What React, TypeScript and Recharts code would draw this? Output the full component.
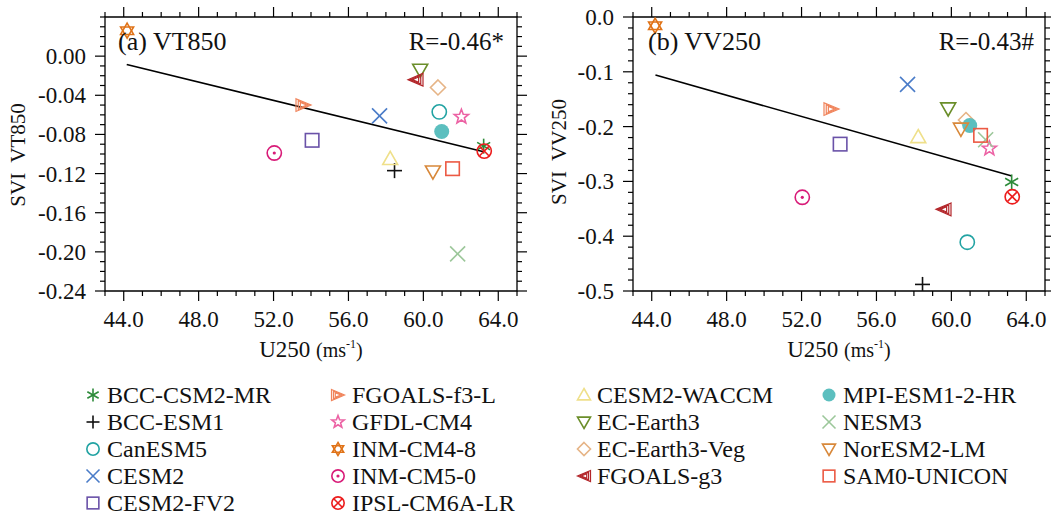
import { ScatterChart, Scatter, XAxis, YAxis, ReferenceArea, ReferenceLine } from 'recharts'

const FONT = '"Liberation Serif", "Times New Roman", serif'

const models = [
  'BCC-CSM2-MR', 'BCC-ESM1', 'CanESM5', 'CESM2', 'CESM2-FV2',
  'FGOALS-f3-L', 'GFDL-CM4', 'INM-CM4-8', 'INM-CM5-0', 'IPSL-CM6A-LR',
  'CESM2-WACCM', 'EC-Earth3', 'EC-Earth3-Veg', 'FGOALS-g3',
  'MPI-ESM1-2-HR', 'NESM3', 'NorESM2-LM', 'SAM0-UNICON',
]
const markerKinds = [
  'asterisk', 'plus', 'circle', 'x', 'square',
  'triR', 'star', 'david', 'dotCircle', 'xCircle',
  'triUp', 'triDown', 'diamond', 'triL',
  'disc', 'x', 'triDown', 'square',
]
const markerColors = [
  '#2e8b3a', '#111111', '#22a3a3', '#4a7cc8', '#6a52a8',
  '#f0835a', '#ec62a4', '#e07318', '#d81b78', '#ec1c1c',
  '#efe08a', '#6b8e2a', '#e6b486', '#b3262a',
  '#5cbfbf', '#9cc79a', '#d8883a', '#ec5a44',
]

// U250 (m/s) per model, shared by both panels
const u250 = [63.22, 58.46, 60.85, 57.66, 54.06, 53.6, 62.03, 44.18, 52.04, 63.25, 58.23, 59.83, 60.78, 59.58, 60.98, 61.83, 60.51, 61.56]
const vt850 = [-0.092, -0.117, -0.057, -0.061, -0.086, -0.05, -0.062, 0.026, -0.099, -0.097, -0.105, -0.014, -0.032, -0.024, -0.077, -0.202, -0.118, -0.115]
const vv250 = [-0.301, -0.488, -0.411, -0.123, -0.232, -0.168, -0.24, -0.016, -0.329, -0.328, -0.219, -0.167, -0.188, -0.351, -0.198, -0.224, -0.204, -0.216]

const trendA = [{ x: 44.16, y: -0.0085 }, { x: 63.22, y: -0.0977 }]
const trendB = [{ x: 44.2, y: -0.106 }, { x: 63.23, y: -0.29 }]

const xDomain = [43, 65]
const xMajor = [44, 48, 52, 56, 60, 64]
const yDomainA = [-0.24, 0.04]
const yMajorA = [0, -0.04, -0.08, -0.12, -0.16, -0.2, -0.24]
const yDomainB = [-0.5, 0]
const yMajorB = [0, -0.1, -0.2, -0.3, -0.4, -0.5]

const PLOT_W = 412
const PLOT_H = 274

const steps = (lo: number, hi: number, step: number) => {
  const out: number[] = []
  for (let v = lo; v <= hi + step / 2; v += step) out.push(Math.round(v * 1000) / 1000)
  return out
}
const isMajor = (list: number[], v: number) => list.some((m) => Math.abs(m - v) < 1e-6)

function Marker({ kind, color, cx, cy, r }: { kind: string; color: string; cx: number; cy: number; r: number }) {
  const sw = 1.6
  const common = { fill: 'none', stroke: color, strokeWidth: sw }
  const poly = (pts: number[][]) => pts.map((p) => p.join(',')).join(' ')
  switch (kind) {
    case 'asterisk': {
      const a = r * 0.87, b = r * 0.5
      return (
        <g {...common}>
          <line x1={cx} y1={cy - r} x2={cx} y2={cy + r} />
          <line x1={cx - a} y1={cy - b} x2={cx + a} y2={cy + b} />
          <line x1={cx - a} y1={cy + b} x2={cx + a} y2={cy - b} />
        </g>
      )
    }
    case 'plus':
      return (
        <g {...common}>
          <line x1={cx} y1={cy - r} x2={cx} y2={cy + r} />
          <line x1={cx - r} y1={cy} x2={cx + r} y2={cy} />
        </g>
      )
    case 'circle':
      return <circle cx={cx} cy={cy} r={r * 0.95} {...common} />
    case 'disc':
      return <circle cx={cx} cy={cy} r={r} fill={color} stroke="none" />
    case 'dotCircle':
      return (
        <g>
          <circle cx={cx} cy={cy} r={r * 0.95} {...common} />
          <circle cx={cx} cy={cy} r={1.6} fill={color} />
        </g>
      )
    case 'xCircle': {
      const d = r * 0.62
      return (
        <g {...common}>
          <circle cx={cx} cy={cy} r={r * 0.95} />
          <line x1={cx - d} y1={cy - d} x2={cx + d} y2={cy + d} />
          <line x1={cx - d} y1={cy + d} x2={cx + d} y2={cy - d} />
        </g>
      )
    }
    case 'x':
      return (
        <g {...common}>
          <line x1={cx - r} y1={cy - r} x2={cx + r} y2={cy + r} />
          <line x1={cx - r} y1={cy + r} x2={cx + r} y2={cy - r} />
        </g>
      )
    case 'square':
      return <rect x={cx - r * 0.9} y={cy - r * 0.9} width={r * 1.8} height={r * 1.8} {...common} />
    case 'diamond':
      return <polygon points={poly([[cx, cy - r], [cx + r, cy], [cx, cy + r], [cx - r, cy]])} {...common} />
    case 'triUp':
      return <polygon points={poly([[cx, cy - r], [cx + r, cy + r * 0.75], [cx - r, cy + r * 0.75]])} {...common} />
    case 'triDown':
      return <polygon points={poly([[cx, cy + r], [cx + r, cy - r * 0.75], [cx - r, cy - r * 0.75]])} {...common} />
    case 'triR':
    case 'triL': {
      const s = kind === 'triR' ? 1 : -1
      return (
        <g {...common} strokeWidth={1.2}>
          {[1, 0.7, 0.42].map((k) => (
            <polygon
              key={k}
              points={poly([[cx - s * r * k, cy - r * k * 0.85], [cx + s * r * k, cy], [cx - s * r * k, cy + r * k * 0.85]])}
            />
          ))}
        </g>
      )
    }
    case 'star': {
      const pts: number[][] = []
      for (let i = 0; i < 10; i++) {
        const ang = -Math.PI / 2 + (i * Math.PI) / 5
        const rr = i % 2 === 0 ? r : r * 0.42
        pts.push([cx + rr * Math.cos(ang), cy + rr * Math.sin(ang)])
      }
      return <polygon points={poly(pts)} {...common} />
    }
    case 'david': {
      const tri = (start: number) =>
        [0, 1, 2].map((i) => {
          const ang = start + (i * 2 * Math.PI) / 3
          return [cx + r * Math.cos(ang), cy + r * Math.sin(ang)]
        })
      return (
        <g {...common}>
          <polygon points={poly(tri(-Math.PI / 2))} />
          <polygon points={poly(tri(Math.PI / 2))} />
        </g>
      )
    }
    default:
      return null
  }
}

function makeXTick() {
  return (props: any) => {
    const { x, y, payload } = props
    const v = payload.value
    const major = isMajor(xMajor, v)
    const len = major ? 10 : 5
    return (
      <g>
        <line x1={x} x2={x} y1={y} y2={y + len} stroke="#000" strokeWidth={1.2} />
        <line x1={x} x2={x} y1={y - PLOT_H} y2={y - PLOT_H - len} stroke="#000" strokeWidth={1.2} />
        {major && (
          <text x={x} y={y + 36} textAnchor="middle" fontSize={23} fontFamily={FONT} fill="#111">
            {v.toFixed(1)}
          </text>
        )}
      </g>
    )
  }
}

function makeYTick(majors: number[], digits: number) {
  return (props: any) => {
    const { x, y, payload } = props
    const v = payload.value
    const major = isMajor(majors, v)
    const len = major ? 10 : 5
    return (
      <g>
        <line x1={x} x2={x - len} y1={y} y2={y} stroke="#000" strokeWidth={1.2} />
        <line x1={x + PLOT_W} x2={x + PLOT_W + len} y1={y} y2={y} stroke="#000" strokeWidth={1.2} />
        {major && (
          <text x={x - 19} y={y} dy="0.35em" textAnchor="end" fontSize={23} fontFamily={FONT} fill="#111">
            {v.toFixed(digits)}
          </text>
        )}
      </g>
    )
  }
}

function Panel({ yValues, yDomain, yTicks, yMajors, digits, trend }: any) {
  return (
    <ScatterChart width={530} height={380} margin={{ top: 17, right: 13, bottom: 0, left: 0 }}>
      <XAxis
        type="number"
        dataKey="x"
        domain={xDomain}
        ticks={steps(43, 65, 1)}
        interval={0}
        height={89}
        tickSize={0}
        tickMargin={0}
        axisLine={false}
        tickLine={false}
        allowDataOverflow
        tick={makeXTick()}
      />
      <YAxis
        type="number"
        dataKey="y"
        domain={yDomain}
        ticks={yTicks}
        interval={0}
        width={105}
        tickSize={0}
        tickMargin={0}
        axisLine={false}
        tickLine={false}
        allowDataOverflow
        tick={makeYTick(yMajors, digits)}
      />
      <ReferenceArea x1={xDomain[0]} x2={xDomain[1]} y1={yDomain[0]} y2={yDomain[1]} fill="none" fillOpacity={0} stroke="#000" strokeWidth={1.3} />
      <ReferenceLine segment={trend} stroke="#000" strokeWidth={1.6} />
      {models.map((m, i) => (
        <Scatter
          key={m}
          name={m}
          data={[{ x: u250[i], y: yValues[i] }]}
          isAnimationActive={false}
          shape={(p: any) => <Marker kind={markerKinds[i]} color={markerColors[i]} cx={p.cx} cy={p.cy} r={7.5} />}
        />
      ))}
    </ScatterChart>
  )
}

const legendCols = [
  { mx: 93, tx: 107, from: 0, to: 5 },
  { mx: 338, tx: 352, from: 5, to: 10 },
  { mx: 584, tx: 597, from: 10, to: 14 },
  { mx: 829, tx: 843, from: 14, to: 18 },
]

export default function App() {
  return (
    <div style={{ position: 'absolute', left: 0, top: 0, width: 1051, height: 516, background: '#fff', fontFamily: FONT }}>
      <div style={{ position: 'absolute', left: 0, top: 0 }}>
        <Panel yValues={vt850} yDomain={yDomainA} yTicks={steps(-0.24, 0.04, 0.01)} yMajors={yMajorA} digits={2} trend={trendA} />
      </div>
      <div style={{ position: 'absolute', left: 528, top: 0 }}>
        <Panel yValues={vv250} yDomain={yDomainB} yTicks={steps(-0.5, 0, 0.02)} yMajors={yMajorB} digits={1} trend={trendB} />
      </div>
      <svg width={1051} height={516} style={{ position: 'absolute', left: 0, top: 0, pointerEvents: 'none' }} fontFamily={FONT} fill="#111">
        <text x={118} y={50} fontSize={26}>(a) VT850</text>
        <text x={504} y={50} fontSize={25} textAnchor="end">R=-0.46*</text>
        <text x={648} y={50} fontSize={26}>(b) VV250</text>
        <text x={1034} y={50} fontSize={25} textAnchor="end">R=-0.43#</text>

        <text transform="translate(18,155) rotate(-90)" textAnchor="middle" dy="0.35em" fontSize={21} style={{ whiteSpace: 'pre' }}>
          SVI  VT850
        </text>
        <text transform="translate(559,152) rotate(-90)" textAnchor="middle" dy="0.35em" fontSize={21} style={{ whiteSpace: 'pre' }}>
          SVI  VV250
        </text>

        {[311, 839].map((cx) => (
          <text key={cx} x={cx} y={357} textAnchor="middle" fontSize={23}>
            U250 <tspan fontSize={20}>(ms</tspan>
            <tspan fontSize={12} dy={-9}>-1</tspan>
            <tspan fontSize={20} dy={9}>)</tspan>
          </text>
        ))}

        {legendCols.map((col) =>
          models.slice(col.from, col.to).map((m, j) => {
            const i = col.from + j
            const cy = 395 + j * 27
            return (
              <g key={m}>
                <Marker kind={markerKinds[i]} color={markerColors[i]} cx={col.mx} cy={cy} r={6.5} />
                <text x={col.tx} y={cy} dy="0.35em" fontSize={24}>{m}</text>
              </g>
            )
          }),
        )}
      </svg>
    </div>
  )
}
